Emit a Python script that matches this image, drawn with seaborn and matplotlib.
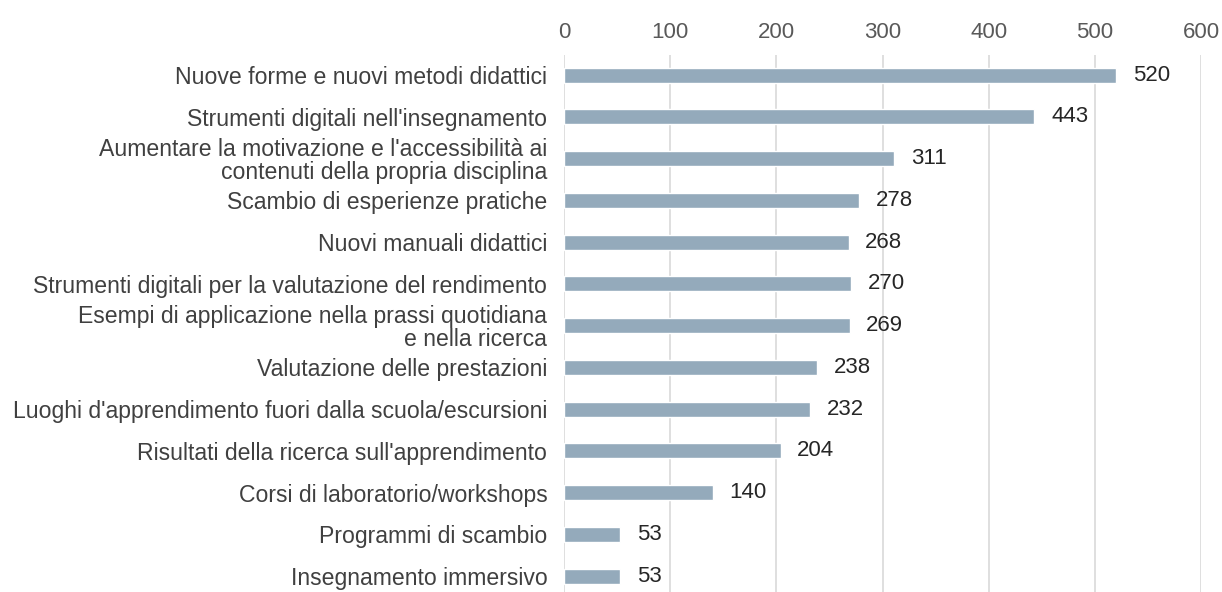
import matplotlib.pyplot as plt
import seaborn as sns
import pandas as pd

# data
categories = [
    'Nuove forme e nuovi metodi didattici',
    "Strumenti digitali nell'insegnamento",
    "Aumentare la motivazione e l'accessibilità ai\ncontenuti della propria disciplina",
    'Scambio di esperienze pratiche',
    'Nuovi manuali didattici',
    'Strumenti digitali per la valutazione del rendimento',
    'Esempi di applicazione nella prassi quotidiana\ne nella ricerca',
    'Valutazione delle prestazioni',
    "Luoghi d'apprendimento fuori dalla scuola/escursioni",
    "Risultati della ricerca sull'apprendimento",
    'Corsi di laboratorio/workshops',
    'Programmi di scambio',
    'Insegnamento immersivo',
]
values = [520, 443, 311, 278, 268, 270, 269, 238, 232, 204, 140, 53, 53]
xticks = [0, 100, 200, 300, 400, 500, 600]

df = pd.DataFrame({'Categoria': categories, 'Valore': values})

sns.set_style('white')
plt.rcParams['font.family'] = ['Liberation Sans', 'DejaVu Sans']

fig = plt.figure(figsize=(12.22, 5.92), dpi=100)
ax = fig.add_axes([0.4615, 0.0, 0.5215, 0.907])

sns.barplot(data=df, x='Valore', y='Categoria', color='#94AABB',
            width=0.36, saturation=1, ax=ax)

ax.set_xlim(0, 600)
ax.set_ylim(len(categories) - 0.62, -0.48)
ax.set_xticks(xticks)
ax.xaxis.tick_top()
ax.tick_params(axis='x', length=0, pad=9, labelsize=16, labelcolor='#595959')
ax.tick_params(axis='y', length=0, pad=12, labelsize=16.6, labelcolor='#404040')
for lbl in ax.get_yticklabels():
    lbl.set_horizontalalignment('right')
    lbl.set_multialignment('right')
    lbl.set_linespacing(1.0)
ax.grid(axis='x', color='#d9d9d9', linewidth=1.2)
ax.set_axisbelow(True)
for s in ax.spines.values():
    s.set_visible(False)
ax.set_xlabel('')
ax.set_ylabel('')

for c in ax.containers:
    ax.bar_label(c, padding=12, fontsize=16, color='#262626')

fig.savefig('out.png', dpi=100)
